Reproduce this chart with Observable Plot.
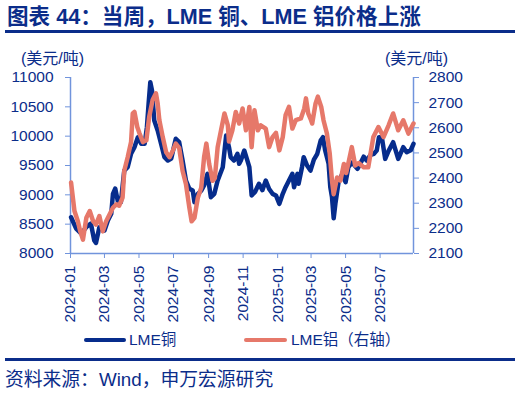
<!DOCTYPE html>
<html>
<head>
<meta charset="utf-8">
<script src="https://cdn.jsdelivr.net/npm/d3@7"></script>
<script src="https://cdn.jsdelivr.net/npm/@observablehq/plot@0.6"></script>
<style>
  html, body { margin: 0; padding: 0; background: #fff; }
  body { width: 520px; height: 398px; position: relative; overflow: hidden;
         font-family: "Liberation Sans", Arial, "Noto Sans CJK SC", sans-serif; color: #0b2d8a; }
  .abs { position: absolute; white-space: nowrap; }
  #title { left: 7px; top: 4px; font-size: 21.6px; font-weight: bold; line-height: 26px; }
  .rule { left: 5px; width: 510px; height: 3px; background: #0b2d8a; }
  .unit { font-size: 16px; line-height: 18px; top: 50px; }
  #chart { left: 0; top: 40px; }
  .sw { height: 4px; border-radius: 2px; }
  .lg { font-size: 15.5px; line-height: 18px; top: 331px; }
  #cap { left: 5px; top: 369px; font-size: 18.8px; line-height: 22px; }
</style>
</head>
<body>
<div id="title" class="abs">图表 44：当周，LME 铜、LME 铝价格上涨</div>
<div class="abs rule" style="top:30px"></div>
<div class="abs unit" style="left:21px">(美元/吨)</div>
<div class="abs unit" style="left:385px">(美元/吨)</div>
<div id="chart" class="abs"></div>
<div class="abs sw" style="left:84px; top:338px; width:42px; background:#062c8c"></div>
<div class="abs lg" style="left:129px">LME铜</div>
<div class="abs sw" style="left:244px; top:338px; width:43px; background:#e6786a"></div>
<div class="abs lg" style="left:291px">LME铝（右轴）</div>
<div class="abs rule" style="top:358px"></div>
<div id="cap" class="abs">资料来源：Wind，申万宏源研究</div>
<script>
const cuDates = ["2024-01-02","2024-01-11","2024-01-20","2024-01-29","2024-02-06","2024-02-12","2024-02-15","2024-02-21","2024-03-01","2024-03-07","2024-03-13","2024-03-16","2024-03-20","2024-03-25","2024-03-30","2024-04-05","2024-04-11","2024-04-17","2024-04-23","2024-04-29","2024-05-05","2024-05-11","2024-05-15","2024-05-18","2024-05-21","2024-05-24","2024-05-28","2024-06-03","2024-06-09","2024-06-15","2024-06-21","2024-06-27","2024-07-05","2024-07-11","2024-07-17","2024-07-23","2024-07-29","2024-08-04","2024-08-07","2024-08-13","2024-08-19","2024-08-24","2024-08-30","2024-09-05","2024-09-11","2024-09-17","2024-09-26","2024-10-02","2024-10-07","2024-10-10","2024-10-16","2024-10-22","2024-10-25","2024-10-28","2024-11-03","2024-11-08","2024-11-12","2024-11-16","2024-11-22","2024-11-29","2024-12-05","2024-12-11","2024-12-17","2024-12-23","2024-12-29","2025-01-04","2025-01-10","2025-01-15","2025-01-21","2025-01-27","2025-01-30","2025-02-05","2025-02-07","2025-02-13","2025-02-16","2025-02-22","2025-02-28","2025-03-06","2025-03-12","2025-03-18","2025-03-22","2025-03-26","2025-04-01","2025-04-04","2025-04-07","2025-04-10","2025-04-13","2025-04-19","2025-04-25","2025-05-01","2025-05-06","2025-05-12","2025-05-17","2025-05-22","2025-05-28","2025-06-02","2025-06-07","2025-06-14","2025-06-20","2025-06-25","2025-06-29","2025-07-04","2025-07-10","2025-07-16","2025-07-24","2025-08-02","2025-08-11","2025-08-17","2025-08-24","2025-08-29"];
const cuValues = [8618,8425,8340,8450,8511,8221,8180,8447,8391,8562,8676,9017,9107,8874,8874,9414,9471,9700,9812,9982,9870,9870,10153,10552,10920,10778,10267,10096,9870,9641,9585,9620,9955,9897,9585,9244,9102,9073,8874,9017,9073,9159,9358,8959,9017,9244,9471,10011,9812,9641,9585,9700,9529,9585,9755,9600,9471,8990,9050,9188,9080,9244,9100,9017,8990,8847,9017,9130,9244,9358,9130,9358,9188,9471,9641,9500,9414,9600,9700,9926,9982,9755,9529,9130,8959,8600,8850,9244,9350,9215,9471,9550,9500,9443,9550,9650,9585,9680,9700,9755,9982,9982,9613,9750,9897,9613,9812,9727,9760,9870];
const alDates = ["2024-01-02","2024-01-08","2024-01-14","2024-01-18","2024-01-23","2024-01-29","2024-02-04","2024-02-10","2024-02-15","2024-02-21","2024-02-27","2024-03-04","2024-03-10","2024-03-16","2024-03-22","2024-03-27","2024-04-02","2024-04-05","2024-04-11","2024-04-17","2024-04-20","2024-04-23","2024-04-28","2024-05-02","2024-05-08","2024-05-14","2024-05-19","2024-05-25","2024-05-31","2024-06-03","2024-06-06","2024-06-12","2024-06-18","2024-06-24","2024-06-30","2024-07-05","2024-07-11","2024-07-17","2024-07-23","2024-07-29","2024-08-02","2024-08-07","2024-08-13","2024-08-19","2024-08-24","2024-08-28","2024-09-02","2024-09-08","2024-09-12","2024-09-17","2024-09-23","2024-09-29","2024-10-05","2024-10-07","2024-10-13","2024-10-19","2024-10-25","2024-10-31","2024-11-06","2024-11-12","2024-11-16","2024-11-21","2024-11-27","2024-12-02","2024-12-11","2024-12-17","2024-12-23","2024-12-29","2025-01-04","2025-01-10","2025-01-15","2025-01-21","2025-01-27","2025-02-02","2025-02-11","2025-02-17","2025-02-20","2025-02-24","2025-03-01","2025-03-03","2025-03-09","2025-03-13","2025-03-19","2025-03-23","2025-03-29","2025-04-03","2025-04-07","2025-04-10","2025-04-16","2025-04-22","2025-04-28","2025-05-02","2025-05-07","2025-05-12","2025-05-18","2025-05-24","2025-06-02","2025-06-10","2025-06-19","2025-06-28","2025-07-07","2025-07-16","2025-07-24","2025-08-02","2025-08-11","2025-08-20","2025-08-29"];
const alValues = [2382,2269,2228,2190,2155,2242,2269,2228,2215,2249,2188,2228,2255,2282,2296,2290,2322,2429,2483,2543,2657,2663,2603,2577,2543,2550,2643,2710,2737,2697,2630,2563,2503,2483,2510,2537,2520,2429,2376,2282,2228,2242,2322,2362,2483,2537,2456,2389,2400,2523,2590,2657,2610,2545,2590,2663,2617,2677,2590,2683,2523,2670,2590,2610,2597,2523,2563,2580,2510,2563,2650,2683,2597,2630,2637,2677,2717,2657,2630,2617,2697,2724,2683,2630,2577,2497,2389,2336,2402,2390,2456,2420,2470,2523,2450,2460,2443,2443,2563,2603,2563,2610,2657,2590,2630,2577,2617];
const cuTicks = [8000,8500,9000,9500,10000,10500,11000];
const alTicks = [2100,2200,2300,2400,2500,2600,2700,2800];
const xTickLabels = ["2024-01","2024-03","2024-05","2024-07","2024-09","2024-11","2025-01","2025-03","2025-05","2025-07"];
const xStart = "2024-01-01", xEnd = "2025-08-29";

const textColor = "#0b2d8a";
const axisColor = "#7194dc";
const cuColor = "#062c8c";
const alColor = "#e6786a";

const parse = d3.utcParse("%Y-%m-%d");
const parseM = d3.utcParse("%Y-%m");
const cu = cuDates.map((d, i) => ({date: parse(d), value: cuValues[i]}));
const al = alDates.map((d, i) => ({date: parse(d), value: alValues[i]}));
const toCu = a => 8000 + (a - 2100) * 3000 / 700;
const fromCu = c => 2100 + (c - 8000) * 700 / 3000;
const x0 = parse(xStart), x1 = parse(xEnd);

const chart = Plot.plot({
  width: 520, height: 290,
  marginLeft: 70, marginRight: 107, marginTop: 37, marginBottom: 77,
  style: {fontFamily: '"Liberation Sans", Arial, "Noto Sans CJK SC", sans-serif', fontSize: "15.5px", color: textColor, background: "transparent", overflow: "visible"},
  x: {type: "utc", domain: [x0, x1]},
  y: {domain: [8000, 11000]},
  marks: [
    Plot.axisY(cuTicks, {anchor: "left", tickSize: 5, tickPadding: 12, tickFormat: d => String(d), stroke: axisColor, fill: textColor, label: null}),
    Plot.axisY(alTicks.map(toCu), {anchor: "right", tickSize: 5, tickPadding: 10, tickFormat: d => String(Math.round(fromCu(d))), stroke: axisColor, fill: textColor, label: null}),
    Plot.axisX(xTickLabels.map(parseM), {anchor: "bottom", tickSize: 5, tickPadding: 7, tickRotate: -90, tickFormat: d3.utcFormat("%Y-%m"), stroke: axisColor, fill: textColor, label: null}),
    Plot.ruleX([x0, x1], {stroke: axisColor, strokeWidth: 1.5}),
    Plot.ruleY([8000], {stroke: axisColor, strokeWidth: 1.5}),
    Plot.lineY(cu, {x: "date", y: "value", stroke: cuColor, strokeWidth: 4.5}),
    Plot.lineY(al, {x: "date", y: d => toCu(d.value), stroke: alColor, strokeWidth: 4.5})
  ]
});
document.getElementById("chart").appendChild(chart);
</script>
</body>
</html>
